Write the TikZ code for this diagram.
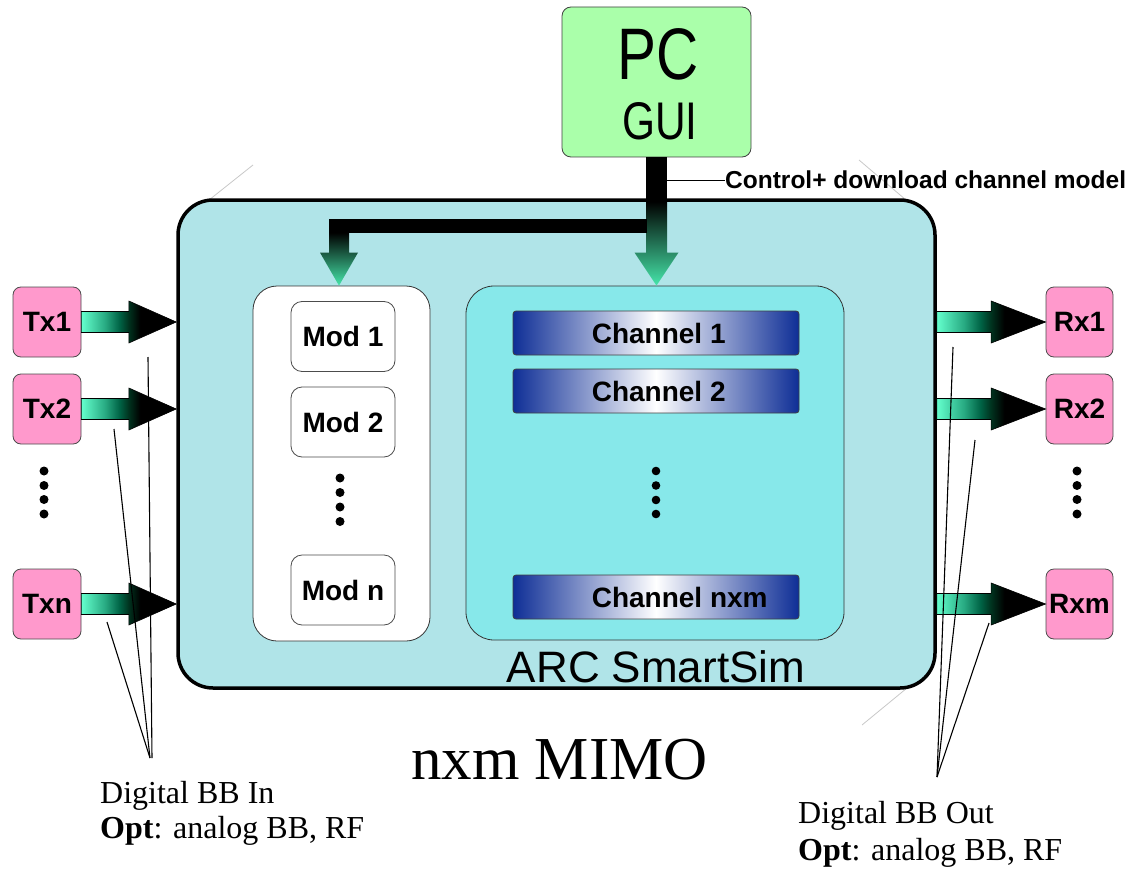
\documentclass[tikz,border=0pt]{standalone}
\usepackage{fontspec}
\setmainfont{Liberation Serif}
\setsansfont{Liberation Sans}
\newfontfamily\narrowsans[FakeStretch=0.8]{Liberation Sans}
\usetikzlibrary{calc}

\definecolor{arcfill}{RGB}{176,228,232}
\definecolor{chanfill}{RGB}{135,232,234}
\definecolor{pcfill}{RGB}{170,255,170}
\definecolor{pinkfill}{RGB}{255,153,204}
\definecolor{chanblue}{RGB}{14,46,150}
\definecolor{aqua}{RGB}{100,255,205}
\definecolor{midteal}{RGB}{40,170,130}
\definecolor{deepgreen}{RGB}{0,100,70}
\definecolor{darkgreen}{RGB}{0,50,30}
\definecolor{tipgreen}{RGB}{70,230,170}
\definecolor{handlegray}{RGB}{200,200,200}

% left-to-right gradient of the stream arrows (25bp..75bp spans the arrow)
\pgfdeclarehorizontalshading{flowgrad}{100bp}{color(0bp)=(aqua); color(25bp)=(aqua);
  color(37.5bp)=(midteal); color(45bp)=(deepgreen); color(50bp)=(darkgreen);
  color(56bp)=(black); color(100bp)=(black)}

% horizontal block arrow from #1 to #2, head starting half way
\newcommand\flowarrow[2]{%
  \shadedraw[flowshade] let \p1=(#1), \p2=(#2), \n1={(\x1+\x2)/2} in
    (\x1,\y1+10.5pt) -- (\n1,\y1+10.5pt) -- (\n1,\y1+21pt) -- (\x2,\y2)
    -- (\n1,\y1-21pt) -- (\n1,\y1-10.5pt) -- (\x1,\y1-10.5pt) -- cycle;}

\begin{document}
\begin{tikzpicture}[x=1pt,y=-1pt,
  arcbox/.style={draw=black, line width=3.5pt, fill=arcfill, rounded corners=35pt},
  modpanel/.style={draw=black!80, line width=0.8pt, fill=white, rounded corners=24pt},
  chanpanel/.style={draw=black!80, line width=0.8pt, fill=chanfill, rounded corners=28pt},
  modbox/.style={draw=black!70, line width=0.8pt, fill=white, rounded corners=11pt,
    minimum width=104pt, minimum height=70pt, inner sep=0pt,
    font=\sffamily\bfseries\fontsize{28}{30}\selectfont},
  chanbar/.style={draw=black!75, line width=0.8pt, rounded corners=3pt,
    left color=chanblue, right color=chanblue, middle color=white,
    minimum width=286pt, minimum height=44pt, inner sep=0pt},
  chantext/.style={inner sep=0pt, font=\sffamily\bfseries\fontsize{28}{30}\selectfont},
  iobox/.style={draw=black!70, line width=0.8pt, fill=pinkfill, rounded corners=8pt,
    minimum width=68pt, minimum height=70pt, inner sep=0pt,
    font=\sffamily\bfseries\fontsize{28}{30}\selectfont},
  pcbox/.style={draw=black!75, line width=0.8pt, fill=pcfill, rounded corners=9pt,
    minimum width=189pt, minimum height=150pt},
  flowshade/.style={shading=flowgrad, draw=black, line width=0.6pt},
  dlshade/.style={top color=black, middle color=deepgreen!85!black, bottom color=tipgreen},
  dotfill/.style={fill=black},
  callout/.style={draw=black, line width=1.1pt},
  handle/.style={draw=handlegray, line width=0.8pt},
  serifnote/.style={inner sep=0pt, anchor=base west, font=\rmfamily\fontsize{32}{35}\selectfont}
]
\useasboundingbox (0,0) rectangle (1126,869);

% selection handles around the simulator block
\draw[handle] (253,165) -- (209,200);
\draw[handle] (859,160) -- (906,200);
\draw[handle] (862,725) -- (907,688);

% simulator enclosure and its two panels
\node[arcbox, minimum width=757pt, minimum height=488pt] (arc) at (556.5,444) {};
\node[modpanel, minimum width=177pt, minimum height=355pt] (modp) at (341.5,463.5) {};
\node[chanpanel, minimum width=378pt, minimum height=354pt] (chanp) at (655,463) {};
\node[inner sep=0pt, anchor=base, font=\sffamily\fontsize{44}{46}\selectfont] (arcname)
  at (656,682) {ARC SmartSim};

% modulators
\node[modbox] (mod1) at (343,336.5) {Mod 1};
\node[modbox] (mod2) at (343,422) {Mod 2};
\node[modbox] (modn) at (343,590) {Mod n};
\foreach \yy in {478,492.5,507,521.5} \fill[dotfill] (340,\yy) circle (4.5pt);

% channels
\node[chanbar] (ch1) at (656,333) {};
\node[chanbar] (ch2) at (656,391) {};
\node[chanbar] (chn) at (656,597) {};
\node[chantext, anchor=west] (ch1t) at ([xshift=79pt]ch1.west) {Channel 1};
\node[chantext, anchor=west] (ch2t) at ([xshift=79pt]ch2.west) {Channel 2};
\node[chantext, anchor=west] (chnt) at ([xshift=79pt]chn.west) {Channel nxm};
\foreach \yy in {471,485.5,500,514} \fill[dotfill] (656,\yy) circle (4.3pt);

% transmitters
\node[iobox] (tx1) at (47,322) {Tx1};
\node[iobox] (tx2) at (47,409) {Tx2};
\node[iobox] (txn) at (47,604) {Txn};
\foreach \yy in {471,485.5,499.5,514} \fill[dotfill] (44,\yy) circle (4.5pt);

% receivers
\node[iobox, minimum width=67pt] (rx1) at (1079.5,322) {Rx1};
\node[iobox, minimum width=67pt] (rx2) at (1079.5,409) {Rx2};
\node[iobox, minimum width=67pt] (rxm) at (1079.5,604) {Rxm};
\foreach \yy in {471,485.5,499.5,514} \fill[dotfill] (1077,\yy) circle (4.5pt);

% input and output streams
\flowarrow{tx1.east}{arc.west |- tx1.east}
\flowarrow{tx2.east}{arc.west |- tx2.east}
\flowarrow{txn.east}{arc.west |- txn.east}
\flowarrow{arc.east |- rx1.west}{rx1.west}
\flowarrow{arc.east |- rx2.west}{rx2.west}
\flowarrow{arc.east |- rxm.west}{rxm.west}

% control PC
\node[pcbox] (pc) at (656.5,82) {};
\node[inner sep=0pt, anchor=base, font=\narrowsans\fontsize{73}{75}\selectfont] (pct) at (658,80) {PC};
\node[inner sep=0pt, anchor=base, font=\narrowsans\fontsize{53}{55}\selectfont] (guit) at (660,140) {GUI};

% download path from the PC into both panels
\coordinate (mainTip) at (chanp.north -| pc.south);
\coordinate (modTip) at ([xshift=-2.5pt]modp.north);
\fill[black] ($(mainTip)+(-10.5,-129)$) rectangle ($(mainTip)+(10.5,-84)$);
\shade[dlshade, shift={(mainTip)}]
  (-10.5,-84) -- (10.5,-84) -- (10.5,-33) -- (22,-33) -- (0,0) -- (-22,-33) -- (-10.5,-33) -- cycle;
\fill[black] ($(modTip)+(-10,-67)$) rectangle ($(mainTip)+(-10,-53)$);
\shade[dlshade, shift={(modTip)}]
  (-10,-53) -- (10,-53) -- (10,-33) -- (19,-33) -- (0,0) -- (-19,-33) -- (-10,-33) -- cycle;

% label of the download path
\node[inner sep=0pt, anchor=base west, font=\sffamily\bfseries\fontsize{24.5}{26}\selectfont]
  (ctrl) at (725,189) {Control+ download channel model};
\coordinate (ctrlFoot) at ($(mainTip)+(10.5,-105)$);
\draw[line width=0.9pt] (ctrlFoot) -- (ctrlFoot -| ctrl.west);

% callouts for the interfaces
\coordinate (inApex) at (150,758);
\coordinate (inA) at (148,357);
\coordinate (inB) at (114,429);
\coordinate (inC) at (107,622);
\draw[callout] (inA) -- ([xshift=2pt]inApex);
\draw[callout] (inB) -- (inApex);
\draw[callout] (inC) -- (inApex);

\coordinate (outApex) at (937,777);
\coordinate (outA) at (953,347);
\coordinate (outB) at (975,440);
\coordinate (outC) at (989,623);
\draw[callout] (outA) -- (outApex);
\draw[callout] (outB) -- (outApex);
\draw[callout] (outC) -- (outApex);

% captions
\node[inner sep=0pt, anchor=base, font=\rmfamily\fontsize{61}{63}\selectfont] (mimo) at (559.5,779) {nxm MIMO};
\node[serifnote] (in1) at (100,803) {Digital BB In};
\node[serifnote] (in2) at (100,838) {\textbf{Opt}: analog BB, RF};
\node[serifnote] (out1) at (798,823) {Digital BB Out};
\node[serifnote] (out2) at (798,860) {\textbf{Opt}: analog BB, RF};
\end{tikzpicture}
\end{document}
